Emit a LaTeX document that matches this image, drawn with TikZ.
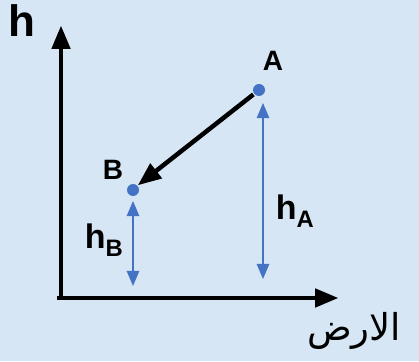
\documentclass[tikz,border=0pt]{standalone}
\usepackage{fontspec}
\setmainfont{Liberation Sans}
\newfontfamily\arabicfont[Script=Arabic]{DejaVu Sans}
\TeXXeTstate=1
\usetikzlibrary{positioning,arrows}
\definecolor{bgblue}{RGB}{214,230,245}
\definecolor{hblue}{RGB}{68,114,196}
\tikzset{
  axis/.style={line width=4.5pt,draw=black,-triangle 45},
  move/.style={line width=4.5pt,draw=black,-triangle 45,shorten <=1pt,shorten >=1pt},
  height/.style={line width=2.6pt,draw=hblue,triangle 45-triangle 45},
  point/.style={circle,fill=hblue,inner sep=0pt,minimum size=12pt},
  biglabel/.style={font=\fontsize{44}{44}\bfseries\selectfont},
  ptlabel/.style={font=\fontsize{28}{28}\bfseries\selectfont},
  hlabel/.style={font=\fontsize{34}{34}\bfseries\selectfont}
}

\begin{document}
\begin{tikzpicture}[x=1pt,y=1pt]
  \fill[bgblue] (0,0) rectangle (419,361);
  \useasboundingbox (0,0) rectangle (419,361);

  \coordinate (o) at (61,63);
  \coordinate (ytip) at (61,335);
  \coordinate (xtip) at (338,63);
  \node[point] (A) at (259,271) {};
  \node[point] (B) at (133,171) {};
  \coordinate (a1) at (263,258);
  \coordinate (a2) at (263,82);
  \coordinate (b1) at (133,160);
  \coordinate (b2) at (133,75);

  \draw[axis] (o) -- (ytip);
  \draw[axis] ([xshift=-4pt]o) -- (xtip);
  \draw[move] (A) -- (B.north east);
  \draw[height] (a1) -- (a2);
  \draw[height] (b1) -- (b2);

  \node[biglabel] (hname) at (22,340) {h};
  \node[ptlabel] (Aname) at (273,300) {A};
  \node[ptlabel] (Bname) at (113,191) {B};
  \node[hlabel] (hA) at (295,150) {h\textsubscript{A}};
  \node[hlabel] (hB) at (104,121) {h\textsubscript{B}};
  \node[font=\arabicfont\fontsize{37}{37}\selectfont] (ground) at (354,30) {\beginR الارض\endR};
\end{tikzpicture}
\end{document}
